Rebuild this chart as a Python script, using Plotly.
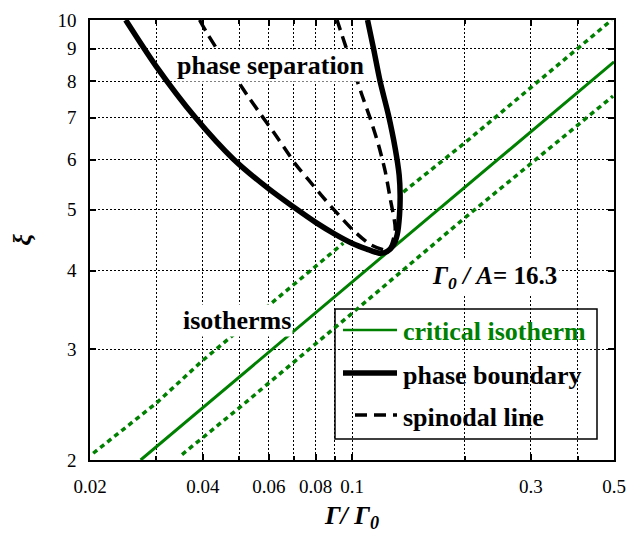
import plotly.graph_objects as go

# ---------------- data ----------------
# phase boundary (binodal), from left-top, round the bottom, to right-top
pb_x = [0.0249, 0.0300, 0.0382, 0.0483, 0.0600, 0.0700, 0.0800, 0.0900, 0.1000,
        0.1091, 0.1189, 0.1242, 0.1290, 0.1320, 0.1339, 0.1344, 0.1336, 0.1304,
        0.1251, 0.1189, 0.1141, 0.1100]
pb_y = [10.0, 8.45, 7.00, 6.01, 5.39, 5.04, 4.77, 4.57, 4.42,
        4.33, 4.26, 4.29, 4.39, 4.56, 4.90, 5.27, 5.67, 6.25,
        7.06, 7.98, 9.02, 10.0]

# spinodal line
sp_x = [0.0392, 0.0413, 0.0525, 0.0570, 0.0618, 0.0657, 0.0710, 0.0766, 0.0830,
        0.0897, 0.1005, 0.1125, 0.1249, 0.1304, 0.1264, 0.1227, 0.1177, 0.1118,
        0.1063, 0.0940, 0.0912]
sp_y = [10.0, 9.47, 7.60, 7.09, 6.63, 6.29, 5.88, 5.57, 5.26,
        4.99, 4.64, 4.39, 4.31, 4.64, 5.21, 5.74, 6.33, 6.98,
        7.60, 9.47, 10.0]

# critical isotherm
ci_x = [0.0273, 0.040, 0.1275, 0.500]
ci_y = [2.00, 2.42, 4.33, 8.58]

# upper isotherm (interrupted inside the two-phase region)
iu_x = [0.0204, 0.030, 0.040, 0.0602, 0.0948, None, 0.1370, 0.200, 0.300, 0.493]
iu_y = [2.05, 2.46, 2.88, 3.53, 4.42, None, 5.33, 6.38, 7.81, 10.0]

# lower isotherm
il_x = [0.0352, 0.050, 0.100, 0.200, 0.497]
il_y = [2.04, 2.42, 3.42, 4.85, 7.57]

x_ticks = [0.02, 0.04, 0.06, 0.08, 0.1, 0.3, 0.5]
x_ticktext = ['0.02', '0.04', '0.06', '0.08', '0.1', '0.3', '0.5']
x_grid_minor = [0.03, 0.05, 0.07, 0.09, 0.2, 0.4]
y_ticks = [2, 3, 4, 5, 6, 7, 8, 9, 10]
y_ticktext = ['2', '3', '4', '5', '6', '7', '8', '9', '10']

GREEN = '#008000'
SERIF = 'Liberation Serif'

fig = go.Figure()
fig.add_trace(go.Scatter(x=iu_x, y=iu_y, mode='lines', name='isotherm',
                         line=dict(color=GREEN, width=3.5, dash='5px,4px'),
                         showlegend=False))
fig.add_trace(go.Scatter(x=il_x, y=il_y, mode='lines', name='isotherm',
                         line=dict(color=GREEN, width=3.5, dash='5px,4px'),
                         showlegend=False))
fig.add_trace(go.Scatter(x=ci_x, y=ci_y, mode='lines', name='critical isotherm',
                         line=dict(color=GREEN, width=3), showlegend=False))
fig.add_trace(go.Scatter(x=sp_x, y=sp_y, mode='lines', name='spinodal line',
                         line=dict(color='black', width=3.5, dash='12px,7px',
                                   shape='spline', smoothing=0.7),
                         showlegend=False))
fig.add_trace(go.Scatter(x=pb_x, y=pb_y, mode='lines', name='phase boundary',
                         line=dict(color='black', width=5.5, shape='spline', smoothing=0.8),
                         showlegend=False))

L, R, T, B = 90, 13, 20, 75
W, H = 627, 535
pw, ph = W - L - R, H - T - B


def px(x):
    return (x - L) / pw


def py(y):
    return (H - B - y) / ph


shapes = []
# legend box (white, above the grid, under the curves)
shapes.append(dict(type='rect', xref='paper', yref='paper', layer='between',
                   x0=px(335), x1=px(597), y0=py(439), y1=py(309),
                   fillcolor='white', line=dict(color='black', width=1.5)))
# legend samples
shapes.append(dict(type='line', xref='paper', yref='paper', layer='above',
                   x0=px(343), x1=px(397), y0=py(330), y1=py(330),
                   line=dict(color=GREEN, width=2.5)))
shapes.append(dict(type='line', xref='paper', yref='paper', layer='above',
                   x0=px(343), x1=px(397), y0=py(373), y1=py(373),
                   line=dict(color='black', width=5.5)))
shapes.append(dict(type='line', xref='paper', yref='paper', layer='above',
                   x0=px(355), x1=px(397), y0=py(415), y1=py(415),
                   line=dict(color='black', width=3.5, dash='12px,7px')))

lab_font = dict(family=SERIF, size=26, color='black')
annotations = [
    dict(text='<b>phase separation</b>', x=px(271), y=py(66), xref='paper', yref='paper',
         showarrow=False, font=lab_font, bgcolor='white', borderpad=1,
         xanchor='center', yanchor='middle'),
    dict(text='<b>isotherms</b>', x=px(237), y=py(320), xref='paper', yref='paper',
         showarrow=False, font=lab_font, bgcolor='white', borderpad=1,
         xanchor='center', yanchor='middle'),
    dict(text='<b><i>Γ</i><sub><i>0</i></sub><i> / A</i>= 16.3</b>', x=px(494), y=py(277),
         xref='paper', yref='paper', showarrow=False,
         font=dict(family=SERIF, size=25, color='black'), bgcolor='white',
         borderpad=2, xanchor='center', yanchor='middle'),
    dict(text='<b>critical isotherm</b>', x=px(401), y=py(331), xref='paper', yref='paper',
         showarrow=False, font=dict(family=SERIF, size=26, color=GREEN),
         xanchor='left', yanchor='middle'),
    dict(text='<b>phase boundary</b>', x=px(401), y=py(375), xref='paper', yref='paper',
         showarrow=False, font=lab_font, xanchor='left', yanchor='middle'),
    dict(text='<b>spinodal line</b>', x=px(401), y=py(417), xref='paper', yref='paper',
         showarrow=False, font=lab_font, xanchor='left', yanchor='middle'),
]

grid_style = dict(gridcolor='black', gridwidth=1, griddash='2px,2px')
axis_common = dict(
    showgrid=True, **grid_style,
    showline=True, linecolor='black', linewidth=1.5, mirror='ticks',
    ticks='inside', ticklen=6, tickwidth=1.5, tickcolor='black',
    tickfont=dict(family=SERIF, size=19, color='black'), zeroline=False,
)

fig.update_layout(
    width=W, height=H,
    margin=dict(l=L, r=R, t=T, b=B, autoexpand=False),
    paper_bgcolor='white', plot_bgcolor='white',
    showlegend=False,
    shapes=shapes, annotations=annotations,
    xaxis=dict(type='log', range=[-1.69897, -0.30103], tickvals=x_ticks,
               ticktext=x_ticktext, ticklabelstandoff=8,
               minor=dict(tickvals=x_grid_minor, showgrid=True, ticks='inside',
                          ticklen=4, tickcolor='black', **grid_style),
               title=dict(text='<b><i>Γ/ Γ</i><sub><i>0</i></sub></b>',
                          font=dict(family=SERIF, size=26, color='black'), standoff=10),
               **axis_common),
    yaxis=dict(type='log', range=[0.30103, 1.0], tickvals=y_ticks,
               ticktext=y_ticktext, ticklabelstandoff=8,
               title=dict(text='<b><i>ξ</i></b>', font=dict(family=SERIF, size=26, color='black'),
                          standoff=18),
               **axis_common),
)

fig.write_html('out.html')
